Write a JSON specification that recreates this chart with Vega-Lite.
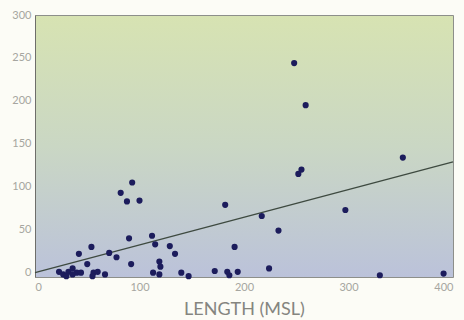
{
  "$schema": "https://vega.github.io/schema/vega-lite/v6.json",
  "autosize": "none",
  "width": 418,
  "height": 262,
  "padding": {"left": 35, "top": 15, "right": 11, "bottom": 43},
  "background": "#fcfcf6",
  "config": {
    "view": {
      "fill": {"gradient": "linear", "x1": 0, "y1": 0, "x2": 0, "y2": 1,
        "stops": [{"offset": 0, "color": "#d7e3b2"}, {"offset": 0.5, "color": "#cad7c4"}, {"offset": 1, "color": "#bbc2da"}]},
      "stroke": "#8d8f8a",
      "strokeWidth": 1
    },
    "axis": {
      "grid": false,
      "ticks": false,
      "labelFont": "Lato",
      "labelColor": "#a6a6a0",
      "labelFontSize": 11,
      "titleFont": "Lato",
      "titleColor": "#85857f",
      "titleFontWeight": "normal"
    }
  },
  "datasets": {
    "pts": [
      {"length": 248, "value": 244}, {"length": 259, "value": 195}, {"length": 255, "value": 120}, {"length": 252, "value": 115},
      {"length": 352, "value": 134}, {"length": 297, "value": 73}, {"length": 217, "value": 66}, {"length": 233, "value": 49},
      {"length": 191, "value": 30}, {"length": 194, "value": 1}, {"length": 224, "value": 5}, {"length": 330, "value": -3},
      {"length": 391, "value": -1}, {"length": 182, "value": 79}, {"length": 184, "value": 1}, {"length": 186, "value": -3},
      {"length": 172, "value": 2},
      {"length": 93, "value": 105}, {"length": 82, "value": 93}, {"length": 88, "value": 83}, {"length": 100, "value": 84},
      {"length": 90, "value": 40}, {"length": 112, "value": 43}, {"length": 115, "value": 33}, {"length": 129, "value": 31},
      {"length": 134, "value": 22}, {"length": 71, "value": 23}, {"length": 78, "value": 18}, {"length": 92, "value": 10},
      {"length": 119, "value": 13}, {"length": 120, "value": 7}, {"length": 113, "value": 0}, {"length": 119, "value": -2},
      {"length": 140, "value": 0}, {"length": 147, "value": -4}, {"length": 67, "value": -2},
      {"length": 54, "value": 30}, {"length": 42, "value": 22}, {"length": 50, "value": 10},
      {"length": 23, "value": 1}, {"length": 27, "value": -2}, {"length": 32, "value": 1}, {"length": 36, "value": 5},
      {"length": 40, "value": 0}, {"length": 44, "value": 0}, {"length": 30, "value": -4}, {"length": 36, "value": -2},
      {"length": 56, "value": 0}, {"length": 60, "value": 1}, {"length": 55, "value": -4}
    ],
    "fit": [{"length": 0, "value": 0}, {"length": 400, "value": 129}]
  },
  "layer": [
    {
      "data": {"name": "fit"},
      "mark": {"type": "line", "color": "#3e4a40", "strokeWidth": 1.3},
      "encoding": {
        "x": {"field": "length", "type": "quantitative"},
        "y": {"field": "value", "type": "quantitative"}
      }
    },
    {
      "data": {"name": "pts"},
      "mark": {"type": "circle", "size": 38, "opacity": 1, "color": "#1c1c5c"},
      "encoding": {
        "x": {"field": "length", "type": "quantitative",
          "scale": {"domain": [0, 400], "nice": false},
          "axis": {"values": [0, 100, 200, 300, 400], "title": "LENGTH (MSL)", "titleFontSize": 18, "titlePadding": 8, "labelPadding": 4, "domain": false}},
        "y": {"field": "value", "type": "quantitative",
          "scale": {"domain": [-5, 300], "nice": false},
          "axis": {"values": [0, 50, 100, 150, 200, 250, 300], "title": null, "labelPadding": 4, "domainColor": "#6e6e6a"}}
      }
    }
  ]
}
